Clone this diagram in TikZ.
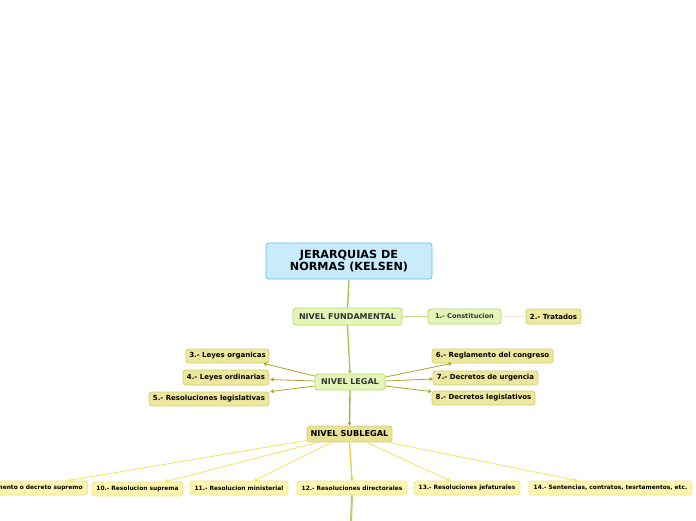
\documentclass[tikz,border=0pt]{standalone}
\usepackage{fontspec}
\setmainfont{DejaVu Sans}
\usetikzlibrary{arrows.meta,calc}
\definecolor{rootfill}{HTML}{C8ECFB}
\definecolor{rootdraw}{HTML}{5EC5EF}
\definecolor{grnfill}{HTML}{E4F5B8}
\definecolor{grndraw}{HTML}{B8D96A}
\definecolor{olvfill}{HTML}{EDE89E}
\definecolor{olvdraw}{HTML}{D6CF70}
\definecolor{subfill}{HTML}{E8E296}
\definecolor{yelfill}{HTML}{FDF5B0}
\definecolor{yeldraw}{HTML}{F3E38A}
\definecolor{trunk}{HTML}{9CC84A}
\definecolor{olvline}{HTML}{ADA52A}
\definecolor{yelline}{HTML}{F5E55A}
\definecolor{txt}{HTML}{333333}
\tikzset{
  box/.style={rounded corners=3pt, line width=0.8pt, inner sep=0pt, align=center, font=\bfseries},
  rootbox/.style={box, fill=rootfill, draw=rootdraw, font=\bfseries\fontsize{11.2}{12.5}\selectfont, text=black},
  lvlgreen/.style={box, fill=grnfill, draw=grndraw, font=\bfseries\fontsize{8}{9}\selectfont, text=txt},
  lvlolive/.style={box, fill=subfill, draw=olvdraw, font=\bfseries\fontsize{8.2}{9}\selectfont, text=black},
  kidgreen/.style={box, fill=grnfill, draw=grndraw, font=\bfseries\fontsize{6.6}{7.5}\selectfont, text=txt},
  kidolive/.style={box, fill=olvfill, draw=olvdraw, font=\bfseries\fontsize{7}{8}\selectfont, text=black},
  kidyel/.style={box, fill=yelfill, draw=yeldraw, font=\bfseries\fontsize{5.9}{7}\selectfont, text=black},
  tip/.style={-{Triangle[width=4pt,length=3pt]}},
}
\begin{document}
\begin{tikzpicture}[x=1pt,y=-1pt]
\useasboundingbox (0,0) rectangle (696,520);
\clip (0,0) rectangle (696,520);
\fill[white] (0,0) rectangle (696,520);

\node[rootbox, minimum width=166pt, minimum height=36pt] (root) at (349,261) {JERARQUIAS DE\\NORMAS (KELSEN)};
\node[lvlgreen, minimum width=109pt, minimum height=17pt] (fund) at (347.5,316.5) {NIVEL FUNDAMENTAL};
\node[kidgreen, minimum width=73pt, minimum height=15pt] (const) at (464.5,316.5) {1.- Constitucion};
\node[kidolive, minimum width=55pt, minimum height=15pt] (trat) at (553.5,316.5) {2.- Tratados};
\node[lvlgreen, minimum width=70pt, minimum height=16pt] (legal) at (350,382) {NIVEL LEGAL};
\node[kidolive, minimum width=83pt, minimum height=14pt] (n3) at (227.5,356) {3.- Leyes organicas};
\node[kidolive, minimum width=86pt, minimum height=15pt] (n4) at (226,377.5) {4.- Leyes ordinarias};
\node[kidolive, minimum width=120pt, minimum height=14pt] (n5) at (209,399) {5.- Resoluciones legislativas};
\node[kidolive, minimum width=121pt, minimum height=14pt] (n6) at (492.5,356) {6.- Reglamento del congreso};
\node[kidolive, minimum width=105pt, minimum height=14pt] (n7) at (485.5,378) {7.- Decretos de urgencia};
\node[kidolive, minimum width=103pt, minimum height=14pt] (n8) at (483.5,398) {8.- Decretos legislativos};
\node[lvlolive, minimum width=85pt, minimum height=16pt] (sub) at (349.5,434) {NIVEL SUBLEGAL};
\node[kidyel, minimum height=14pt, inner xsep=5pt, anchor=east] (n9) at (88,488) {9.- Reglamento o decreto supremo};
\node[kidyel, minimum width=91pt, minimum height=14pt] (n10) at (137.5,489) {10.- Resolucion suprema};
\node[kidyel, minimum width=98pt, minimum height=14pt] (n11) at (239,488) {11.- Resolucion ministerial};
\node[kidyel, minimum width=110pt, minimum height=14pt] (n12) at (352,488) {12.- Resoluciones directorales};
\node[kidyel, minimum width=106pt, minimum height=14pt] (n13) at (467,488) {13.- Resoluciones jefaturales};
\node[kidyel, minimum width=163pt, minimum height=14pt] (n14) at (610.5,488) {14.- Sentencias, contratos, tesrtamentos, etc.};
\coordinate (bottom) at (351,522);

% trunk
\draw[trunk, line width=1.3pt] (root.south) -- (fund.north);
\draw[trunk, line width=1.3pt, tip] (fund.south) -- (legal.north);
\draw[olvline, line width=1.3pt, tip] (legal.south) -- (sub.north);
\draw[yelline!70!olvline, line width=1.3pt, tip] (sub.south) -- (n12.north);
\draw[trunk!80!white, line width=2pt] (n12.south) -- (bottom);

% fundamental
\draw[grndraw!80!white, line width=1.2pt] (fund.east) -- (const.west);
\draw[olvfill!70!gray!40!white, line width=1pt] (const.east) -- (trat.west);

% legal
\draw[olvline, line width=0.8pt, tip] ($(legal.west)+(0,-6)$) -- ($(n3.south east)+(-6,0)$);
\draw[olvline, line width=0.8pt, tip] ($(legal.west)+(0,-1)$) -- ($(n4.east)+(1,2)$);
\draw[olvline, line width=0.8pt, tip] ($(legal.west)+(0,4)$) -- ($(n5.north east)+(1,0)$);
\draw[olvline, line width=0.8pt, tip] ($(legal.east)+(0,-5)$) -- ($(n6.south west)+(20,0)$);
\draw[olvline, line width=0.8pt, tip] ($(legal.east)+(0,-1)$) -- ($(n7.west)+(0,1)$);
\draw[olvline, line width=0.8pt, tip] ($(legal.east)+(0,4)$) -- ($(n8.north west)+(0,1)$);

% sublegal
\draw[yelline, line width=0.8pt, tip] ($(sub.south west)+(0,-2)$) -- ($(n9.north east)+(-20,0)$);
\draw[yelline, line width=0.8pt, tip] ($(sub.south west)+(11,0)$) -- ($(n10.north east)+(-18,0)$);
\draw[yelline, line width=0.8pt, tip] ($(sub.south west)+(25,0)$) -- ($(n11.north)+(15,0)$);
\draw[yelline, line width=0.8pt, tip] ($(sub.south west)+(60,0)$) -- ($(n13.north)+(-17,0)$);
\draw[yelline, line width=0.8pt, tip] ($(sub.south east)+(-4,0)$) -- ($(n14.north)+(-33,0)$);
\end{tikzpicture}
\end{document}
